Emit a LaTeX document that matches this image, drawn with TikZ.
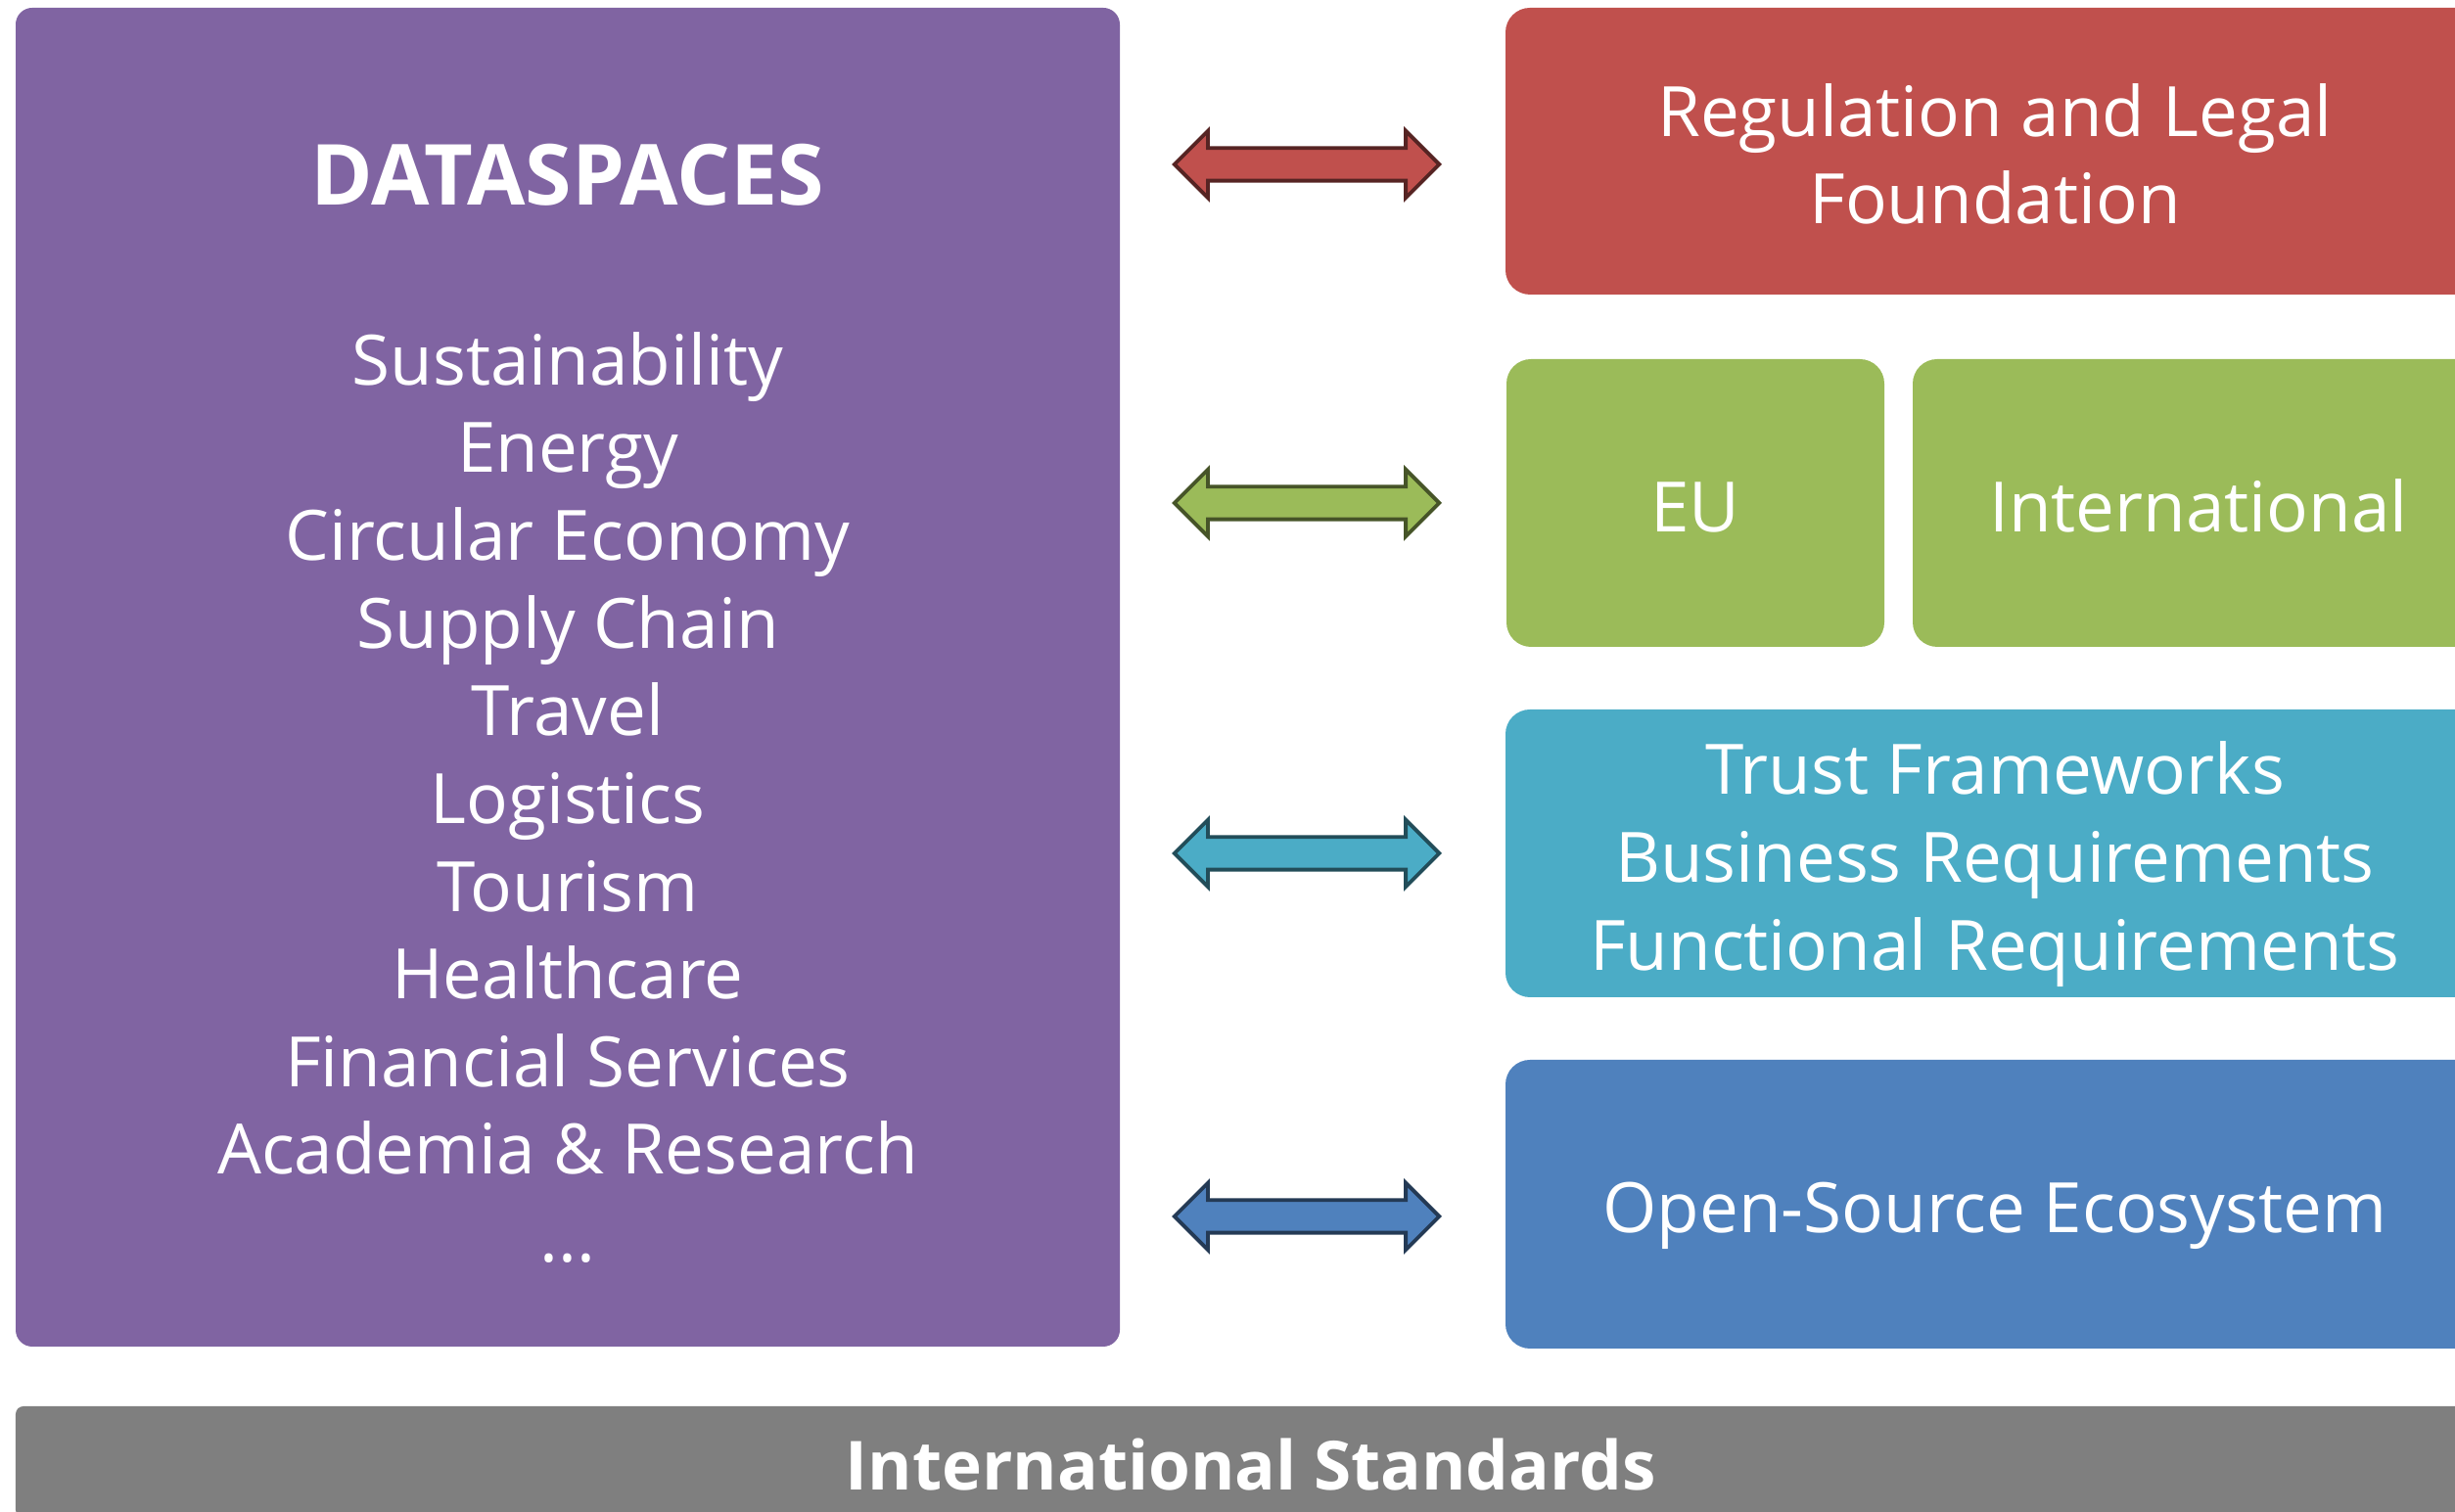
\documentclass[tikz,border=0pt]{standalone}
\usepackage{fontspec}
\setmainfont{Open Sans}
\usetikzlibrary{shapes.arrows}
\definecolor{dataspace}{RGB}{128,100,162}
\definecolor{legal}{RGB}{192,80,77}
\definecolor{region}{RGB}{155,187,89}
\definecolor{trust}{RGB}{75,172,198}
\definecolor{opensource}{RGB}{79,129,189}
\definecolor{standard}{RGB}{127,127,127}
\newcommand{\boxstrut}{\rule[-0.25em]{0pt}{1.33em}}
\tikzstyle{box}=[rectangle, rounded corners=0.25cm, inner sep=0pt, align=center, text=white, font=\fontsize{20.2}{25.5}\selectfont, execute at begin node=\boxstrut, execute at end node=\boxstrut]
\tikzset{link/.style={double arrow, double arrow head extend=0.175cm, double arrow tip angle=90, minimum width=0.645cm, minimum height=2.705cm, inner xsep=0pt, inner ysep=0.1475cm, line width=1.1pt, draw=#1!45!black, fill=#1}}
\tikzset{heading/.style={text=white, inner sep=0pt, font=\fontsize{24.5}{24.5}\selectfont\bfseries}}

\begin{document}
\begin{tikzpicture}
  \useasboundingbox (0,0) rectangle (25.08,15.45);
  \clip (0,0) rectangle (25.08,15.45);
  %% Dataspaces
  \draw (5.80,8.53) node[box, rounded corners=0.17cm, fill=dataspace, minimum width=11.28cm, minimum height=13.68cm] (DS) {};
  \draw (5.80,13.66) node[heading] (DStitle) {DATASPACES};
  \draw (5.80,7.33) node[box] (DSlist) {\boxstrut Sustainability\\Energy\\Circular Economy\\Supply Chain\\Travel\\Logistics\\Tourism\\Healthcare\\Financial Services\\Academia \& Research\\...};

  %% Building blocks
  \draw (20.38,13.905) node[box, fill=legal, minimum width=10cm, minimum height=2.93cm] (RL) {\boxstrut Regulation and Legal\\Foundation};
  \draw (17.32,10.31) node[box, fill=region, minimum width=3.86cm, minimum height=2.94cm] (EU) {EU};
  \draw (22.46,10.31) node[box, fill=region, minimum width=5.84cm, minimum height=2.94cm] (INT) {International};
  \draw (20.38,6.73) node[box, fill=trust, minimum width=10cm, minimum height=2.94cm] (TF) {\boxstrut Trust Frameworks\\Business Requirements\\Functional Requirements};
  \draw (20.38,3.145) node[box, fill=opensource, minimum width=10cm, minimum height=2.95cm] (OS) {Open-Source Ecosystem};

  %% Links
  \draw (13.35,13.77) node[link=legal] (A1) {};
  \draw (13.35,10.31) node[link=region] (A2) {};
  \draw (13.35,6.73) node[link=trust] (A3) {};
  \draw (13.35,3.02) node[link=opensource] (A4) {};

  %% Standards
  \draw (12.78,0.51) node[box, rounded corners=0.08cm, fill=standard, minimum width=25.24cm, minimum height=1.14cm, font=\fontsize{19.7}{22}\selectfont\bfseries] (STD) {International Standards};
\end{tikzpicture}
\end{document}
